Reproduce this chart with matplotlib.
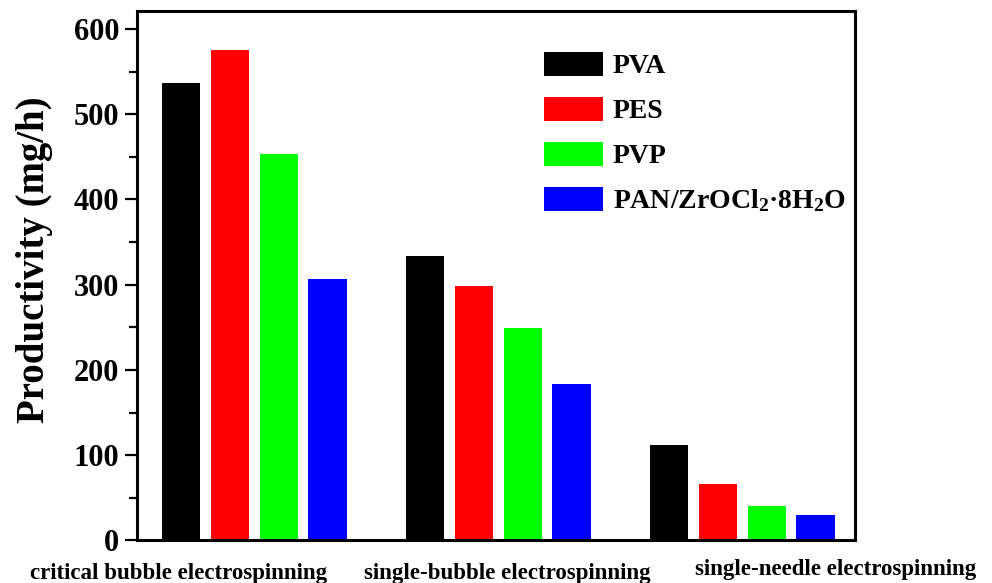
import numpy as np
import matplotlib
matplotlib.use('Agg')
import matplotlib.pyplot as plt
from matplotlib import transforms

# 폰트: Times 계열 대체로 Liberation Serif 굵게
plt.rcParams['font.family'] = 'Liberation Serif'
plt.rcParams['font.weight'] = 'bold'
plt.rcParams['mathtext.fontset'] = 'custom'
plt.rcParams['mathtext.rm'] = 'Liberation Serif:bold'
plt.rcParams['mathtext.it'] = 'Liberation Serif:bold'
plt.rcParams['mathtext.bf'] = 'Liberation Serif:bold'

# 데이터
methods = ['critical bubble electrospinning',
           'single-bubble electrospinning',
           'single-needle electrospinning']
polymers = ['PVA', 'PES', 'PVP', r'PAN/ZrOCl$_2$·8H$_2$O']
colors = ['#000000', '#ff0000', '#00ff00', '#0000ff']

pva = [537, 334, 112]
pes = [575, 299, 66]
pvp = [453, 249, 40]
pan = [307, 184, 30]
series = [pva, pes, pvp, pan]

yticks = [0, 100, 200, 300, 400, 500, 600]

fig = plt.figure(figsize=(9.92, 5.83), dpi=100)
ax = fig.add_axes([0.1386, 0.0729, 0.7233, 0.9082])

x = np.arange(len(methods))
step = 0.2
width = 0.157
for j, vals in enumerate(series):
    ax.bar(x + (j - 1.5) * step, vals, width=width, color=colors[j],
           label=polymers[j], linewidth=0)

ax.set_xlim(-0.479, 2.462)
ax.set_ylim(0, 621)
ax.set_yticks(yticks)
ax.set_yticks(np.arange(50, 600, 100), minor=True)
ax.set_xticks([])

for sp in ax.spines.values():
    sp.set_linewidth(2.2)

ax.tick_params(axis='y', which='major', direction='out', length=9, width=1.6,
               labelsize=22, pad=4)
ax.tick_params(axis='y', which='minor', direction='out', length=6, width=1.6)
for lbl in ax.get_yticklabels():
    lbl.set_fontweight('bold')

ax.set_ylabel('Productivity (mg/h)', fontsize=28, fontweight='bold')
ax.yaxis.set_label_coords(-0.118, 0.53)

# 카테고리 라벨 (x축 아래)
trans = transforms.blended_transform_factory(ax.transData, ax.transAxes)
label_x = [-0.309, 1.035, 2.383]
label_y = [-0.063, -0.063, -0.054]
for name, lx, ly in zip(methods, label_x, label_y):
    ax.text(lx, ly, name, transform=trans, ha='center', va='center',
            fontsize=16.5, fontweight='bold')

leg = ax.legend(loc='upper left', bbox_to_anchor=(0.5666, 0.923),
                frameon=False, fontsize=20, handlelength=2.12,
                handleheight=0.97, labelspacing=0.62, handletextpad=0.36,
                borderpad=0, borderaxespad=0)
for t in leg.get_texts():
    t.set_fontweight('bold')

fig.savefig('out.png', dpi=100)
